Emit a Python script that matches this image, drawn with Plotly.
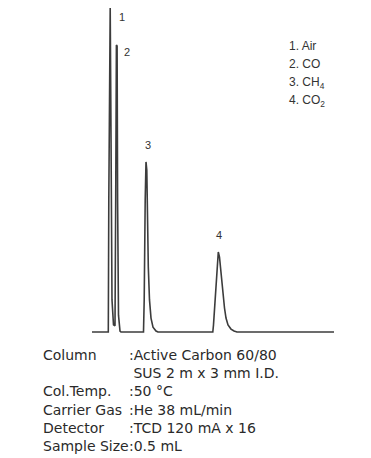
import plotly.graph_objects as go

# Chromatogram trace (retention time in min, signal in arbitrary units)
time_min = [0.0, 0.815, 0.84, 0.875, 0.91, 0.94, 1.0, 1.075, 1.15, 1.185, 1.22, 1.255, 1.28, 1.325,
            1.4, 1.45, 2.575, 2.61, 2.66, 2.7, 2.74, 2.775, 2.815, 2.875, 2.95, 3.05, 3.2, 3.3,
            6.04, 6.075, 6.15, 6.225, 6.315, 6.375, 6.45, 6.55, 6.625, 6.7, 6.8, 6.95, 7.1, 7.25, 12.1]
signal = [0, 0, 40.7, 99.4, 100, 71.6, 9.9, 2.2, 1.9, 40.7, 88.6, 88.3, 40.7, 5.2,
          0.3, 0, 0, 9.9, 40.7, 52.5, 50.0, 31.5, 20.1, 9.9, 4.3, 1.5, 0.3, 0,
          0, 2.2, 9.9, 19.1, 24.7, 23.1, 17.6, 12.3, 7.4, 4.3, 2.2, 0.9, 0.3, 0, 0]

# Peaks
peak_numbers = ["1", "2", "3", "4"]
peak_times = [0.91, 1.22, 2.70, 6.315]
peak_heights = [100, 88.6, 52.5, 24.7]
peak_names = ["1. Air", "2. CO", "3. CH<sub>4</sub>", "4. CO<sub>2</sub>"]

# Conditions
cond_labels = ["Column", "", "Col.Temp.", "Carrier Gas", "Detector", "Sample Size"]
cond_values = [":Active Carbon 60/80", " SUS 2 m x 3 mm I.D.", ":50 °C", ":He 38 mL/min",
               ":TCD 120 mA x 16", ":0.5 mL"]

# page body has an 8 px margin, so the figure is drawn 8 px in from the window corner
OFF = 8
W, H = 371 - OFF, 458 - OFF


def px(x):
    return (x - OFF) / W


def py(y):
    return 1 - (y - OFF) / H


fig = go.Figure()
fig.add_trace(go.Scatter(x=time_min, y=signal, mode="lines", cliponaxis=False,
                         line=dict(color="#3c3c3c", width=1.6), hoverinfo="skip"))

# peak number labels (offsets in px from apex)
label_dx = [12, 11, 2, 1]
label_dy = [-9, -7, 17, 17]
for n, t, h, dx, dy in zip(peak_numbers, peak_times, peak_heights, label_dx, label_dy):
    fig.add_annotation(x=t, y=h, text=n, showarrow=False, xshift=dx, yshift=dy,
                       font=dict(family="Liberation Sans", size=11, color="#333333"))

# legend list
for i, name in enumerate(peak_names):
    fig.add_annotation(x=px(287), y=py(46 + i * 18.3), xref="paper", yref="paper",
                       text=name, showarrow=False, xanchor="left", yanchor="middle",
                       font=dict(family="Liberation Sans", size=12, color="#333333"))

# conditions text
for i, (lab, val) in enumerate(zip(cond_labels, cond_values)):
    yy = py(355 + i * 18.2)
    if lab:
        fig.add_annotation(x=px(41), y=yy, xref="paper", yref="paper", text=lab,
                           showarrow=False, xanchor="left", yanchor="middle",
                           font=dict(family="DejaVu Sans", size=14, color="#2a2a2a"))
    fig.add_annotation(x=px(127), y=yy, xref="paper", yref="paper", text=val,
                       showarrow=False, xanchor="left", yanchor="middle",
                       font=dict(family="DejaVu Sans", size=14, color="#2a2a2a"))

fig.update_layout(
    width=W, height=H, autosize=False,
    margin=dict(l=0, r=0, t=0, b=0),
    paper_bgcolor="white", plot_bgcolor="white",
    showlegend=False,
    xaxis=dict(range=[(OFF - 92) / 20, (371 - 92) / 20], visible=False, fixedrange=True),
    yaxis=dict(range=[(332 - 458) / 3.24, (332 - OFF) / 3.24], visible=False, fixedrange=True),
)
fig.write_html("out.html", config={"displayModeBar": False})
